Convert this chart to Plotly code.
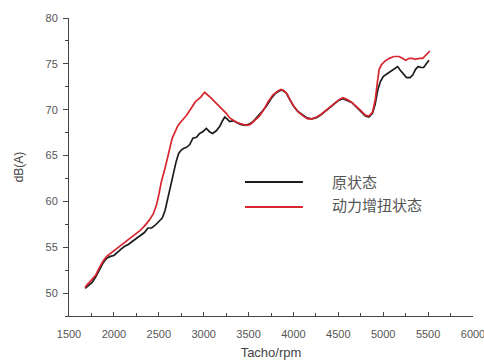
import plotly.graph_objects as go

# Engine speed sweep (rpm) and A-weighted level (dB) for the baseline calibration
rpm_base = [1680, 1700, 1730, 1760, 1800, 1840, 1880, 1920, 1960, 2000, 2040, 2080, 2120, 2160,
            2200, 2240, 2290, 2340, 2380, 2420, 2460, 2500, 2540, 2570, 2600, 2630, 2660, 2690,
            2720, 2750, 2780, 2810, 2845, 2880, 2920, 2955, 2990, 3030, 3065, 3100, 3140, 3180,
            3210, 3235, 3260, 3290, 3330, 3370, 3410, 3455, 3500, 3550, 3600, 3650, 3700, 3750,
            3800, 3850, 3880, 3920, 3960, 4000, 4050, 4100, 4150, 4200, 4250, 4300, 4350, 4400,
            4450, 4500, 4550, 4600, 4650, 4700, 4750, 4800, 4840, 4880, 4910, 4940, 4970, 5000,
            5040, 5080, 5120, 5160, 5190, 5220, 5260, 5300, 5330, 5360, 5390, 5420, 5450, 5480,
            5510]
db_base = [50.5, 50.7, 50.9, 51.2, 51.8, 52.6, 53.3, 53.8, 54.0, 54.1, 54.5, 54.8, 55.1, 55.3,
           55.6, 55.9, 56.2, 56.6, 57.1, 57.1, 57.4, 57.8, 58.2, 59.0, 60.3, 61.8, 63.0, 64.2,
           65.2, 65.6, 65.8, 65.9, 66.2, 66.9, 67.0, 67.4, 67.6, 67.95, 67.6, 67.4, 67.7, 68.2,
           68.8, 69.2, 69.0, 68.7, 68.8, 68.6, 68.4, 68.3, 68.4, 68.7, 69.2, 69.8, 70.4, 71.2,
           71.8, 72.1, 72.1, 71.8, 71.1, 70.4, 69.8, 69.4, 69.1, 69.0, 69.1, 69.4, 69.8, 70.2,
           70.6, 71.0, 71.2, 71.0, 70.8, 70.3, 69.8, 69.3, 69.2, 69.6, 70.6, 72.2, 73.1, 73.6,
           73.9, 74.2, 74.5, 74.7, 74.3, 74.0, 73.5, 73.5, 73.8, 74.4, 74.7, 74.6, 74.6, 75.0,
           75.4]

# Same sweep with the torque-boost calibration
rpm_boost = [1680, 1700, 1730, 1760, 1800, 1840, 1880, 1920, 1960, 2000, 2040, 2080, 2120, 2160,
             2200, 2240, 2290, 2340, 2390, 2437, 2474, 2500, 2530, 2567, 2600, 2622, 2650, 2678,
             2710, 2740, 2770, 2810, 2850, 2881, 2910, 2937, 2970, 3011, 3050, 3090, 3130, 3170,
             3210, 3252, 3290, 3326, 3370, 3437, 3480, 3520, 3570, 3620, 3670, 3720, 3770, 3820,
             3860, 3890, 3930, 3970, 4010, 4060, 4110, 4160, 4210, 4260, 4310, 4360, 4410, 4460,
             4510, 4550, 4600, 4650, 4700, 4750, 4800, 4840, 4880, 4910, 4935, 4955, 4980, 5020,
             5067, 5120, 5178, 5215, 5252, 5290, 5326, 5360, 5400, 5440, 5470, 5500, 5520]
db_boost = [50.6, 50.9, 51.2, 51.5, 52.0, 52.8, 53.5, 54.0, 54.3, 54.6, 54.9, 55.2, 55.5, 55.8,
            56.1, 56.4, 56.8, 57.3, 57.9, 58.6, 59.6, 60.7, 62.2, 63.5, 64.8, 65.9, 66.9, 67.5,
            68.2, 68.6, 68.9, 69.4, 70.0, 70.5, 70.9, 71.1, 71.4, 71.9, 71.6, 71.2, 70.8, 70.4,
            70.0, 69.6, 69.1, 68.9, 68.6, 68.4, 68.3, 68.4, 68.8, 69.3, 70.0, 70.9, 71.6, 72.0,
            72.2, 72.1, 71.7, 70.9, 70.3, 69.7, 69.3, 69.0, 69.0, 69.2, 69.5, 69.9, 70.3, 70.7,
            71.1, 71.3, 71.1, 70.8, 70.4, 69.9, 69.4, 69.3, 69.7, 71.0, 73.0, 74.4, 74.9, 75.3,
            75.6, 75.8, 75.8, 75.6, 75.4, 75.6, 75.6, 75.5, 75.6, 75.6, 75.9, 76.2, 76.4]

series_names = ["原状态", "动力增扭状态"]
series_colors = ["#1c1c1c", "#d8262f"]

y_ticks = [50, 55, 60, 65, 70, 75, 80]
x_ticks = [1500, 2000, 2500, 3000, 3500, 4000, 4500, 5000, 5500, 6000]

fig = go.Figure()
fig.add_trace(go.Scatter(x=rpm_base, y=db_base, mode="lines", name=series_names[0],
                         line=dict(color=series_colors[0], width=1.7), showlegend=False))
fig.add_trace(go.Scatter(x=rpm_boost, y=db_boost, mode="lines", name=series_names[1],
                         line=dict(color=series_colors[1], width=1.7), showlegend=False))

axis_color = "#444444"
tick_font = dict(family="Liberation Sans, Arial, sans-serif", size=11, color="#555555")

fig.update_xaxes(
    range=[1500, 6000], tickvals=x_ticks, ticktext=[str(v) for v in x_ticks],
    ticks="inside", ticklen=4, tickwidth=1, tickcolor=axis_color,
    minor=dict(dtick=250, ticks="inside", ticklen=3, tickcolor=axis_color),
    showline=True, linecolor=axis_color, linewidth=1, showgrid=False, zeroline=False,
    tickfont=tick_font, ticklabelstandoff=8, ticklabeloverflow="allow",
    title=dict(text="Tacho/rpm", font=dict(family="Liberation Sans, Arial, sans-serif",
                                           size=13, color="#444444"), standoff=8),
)
fig.update_yaxes(
    range=[47.5, 80], tickvals=y_ticks, ticktext=[str(v) for v in y_ticks],
    ticks="outside", ticklen=5, tickwidth=1, tickcolor=axis_color,
    minor=dict(dtick=2.5, ticks="outside", ticklen=3, tickcolor=axis_color),
    showline=True, linecolor=axis_color, linewidth=1, showgrid=False, zeroline=False,
    tickfont=tick_font, ticklabelstandoff=3,
    title=dict(text="dB(A)", font=dict(family="Liberation Sans, Arial, sans-serif",
                                       size=12, color="#444444"), standoff=19),
)

# Legend drawn as line samples with labels inside the plot area
legend_rows = [(0.4507, 0.4497), (0.3758, 0.3658)]
for name, color, (ty, ly) in zip(series_names, series_colors, legend_rows):
    fig.add_shape(type="line", xref="paper", yref="paper", x0=0.4356, x1=0.579, y0=ly, y1=ly,
                  line=dict(color=color, width=1.8))
    fig.add_annotation(xref="paper", yref="paper", x=0.646, y=ty, text=name, showarrow=False,
                       xanchor="left", yanchor="middle",
                       font=dict(family="Noto Sans CJK SC", size=15, color="#555555"))

fig.update_layout(
    width=484, height=361,
    margin=dict(l=69, r=11, t=18, b=45, autoexpand=False),
    paper_bgcolor="white", plot_bgcolor="white",
)

fig.write_html("out.html")
